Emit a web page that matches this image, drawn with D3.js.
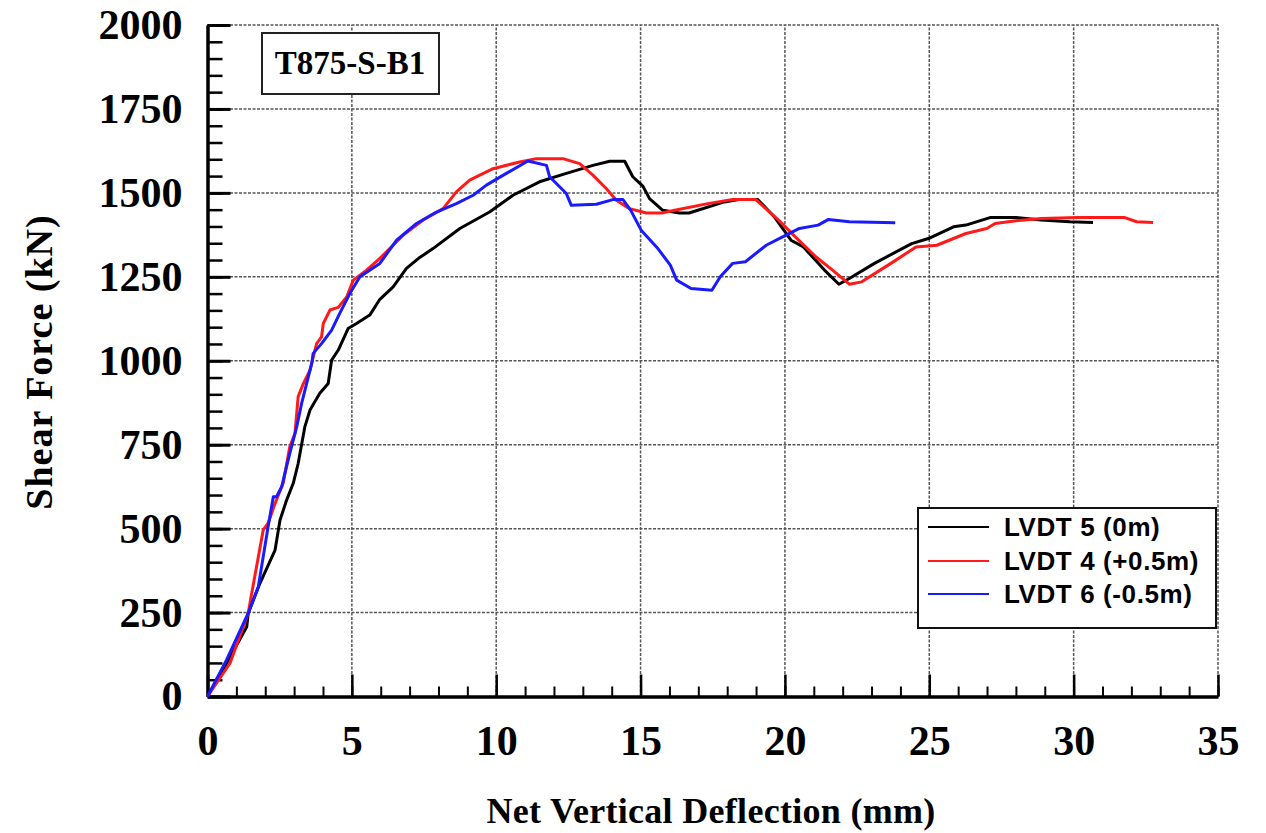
<!DOCTYPE html>
<html>
<head>
<meta charset="utf-8">
<script src="https://cdn.jsdelivr.net/npm/d3@7"></script>
<style>
  body { margin: 0; background: #fff; }
  svg { display: block; }
</style>
</head>
<body>
<div id="chart"></div>
<script>
const width = 1266, height = 833;

// data: [deflection mm, shear kN]
const lvdt5 = [[0,0],[0.7,105],[1.36,208],[1.41,248],[1.82,338],[2.34,436],[2.51,525],[2.74,585],[2.97,635],[3.14,694],[3.37,803],[3.55,853],[3.89,903],[4.18,932],[4.30,1002],[4.53,1032],[4.87,1096],[5.16,1111],[5.62,1136],[5.97,1183],[6.43,1220],[6.89,1275],[7.31,1305],[7.81,1334],[8.74,1394],[9.77,1443],[10.58,1493],[11.5,1533],[12.43,1558],[13.35,1582],[13.93,1594],[14.45,1594],[14.73,1548],[15.08,1520],[15.31,1483],[15.77,1448],[16.35,1440],[16.68,1440],[17.9,1473],[18.4,1480],[19.06,1480],[19.64,1428],[20.21,1359],[20.64,1339],[21.37,1270],[21.87,1228],[22.23,1245],[23.1,1290],[24.39,1349],[24.97,1364],[25.84,1399],[26.27,1404],[27.13,1427],[28.0,1427],[28.87,1419],[29.87,1414],[30.67,1412]];

const lvdt4 = [[0,0],[0.78,99],[1.41,248],[1.53,307],[1.93,496],[2.10,516],[2.34,575],[2.62,635],[2.85,744],[3.03,784],[3.14,893],[3.32,932],[3.55,972],[3.78,1051],[3.95,1071],[4.01,1111],[4.24,1151],[4.53,1159],[4.82,1190],[5.05,1240],[5.51,1270],[5.97,1305],[6.78,1374],[7.47,1419],[8.16,1453],[8.62,1503],[9.08,1538],[9.89,1572],[10.81,1592],[11.39,1602],[12.31,1602],[12.89,1587],[13.35,1553],[13.81,1513],[14.16,1478],[14.62,1453],[15.2,1440],[15.74,1440],[16.18,1448],[17.33,1468],[18.19,1480],[18.99,1480],[19.78,1419],[20.36,1369],[21.08,1309],[21.65,1270],[22.23,1228],[22.66,1235],[23.67,1290],[24.54,1339],[25.26,1344],[26.27,1379],[26.99,1394],[27.28,1409],[28.0,1417],[28.87,1424],[30.16,1427],[31.75,1427],[32.18,1414],[32.75,1412]];

const lvdt6 = [[0,0],[0.66,109],[1.41,248],[1.76,327],[2.10,506],[2.28,595],[2.39,595],[2.57,625],[2.85,724],[3.09,803],[3.26,873],[3.61,992],[3.66,1022],[3.95,1051],[4.30,1091],[4.58,1141],[4.93,1200],[5.28,1250],[5.97,1290],[6.55,1359],[7.24,1409],[7.93,1443],[8.62,1468],[9.2,1493],[9.66,1523],[10.35,1558],[11.1,1595],[11.74,1582],[11.85,1548],[12.43,1498],[12.6,1463],[13.47,1466],[14.04,1480],[14.39,1480],[14.66,1448],[15.02,1389],[15.6,1334],[16.03,1285],[16.25,1240],[16.75,1215],[17.47,1210],[17.76,1250],[18.19,1290],[18.63,1295],[19.35,1344],[19.92,1369],[20.5,1394],[21.15,1404],[21.51,1421],[22.23,1414],[23.82,1411]];

const seriesNames = ["LVDT 5 (0m)", "LVDT 4 (+0.5m)", "LVDT 6 (-0.5m)"];
const seriesColors = ["#000000", "#ff1a1a", "#1a1aff"];
const xTicks = [0, 5, 10, 15, 20, 25, 30, 35];
const yTicks = [0, 250, 500, 750, 1000, 1250, 1500, 1750, 2000];

const margin = {left: 207.5, right: 48, top: 25, bottom: 136.5};

const svg = d3.select("#chart")
    .append("svg")
    .attr("width", width)
    .attr("height", height);

const x = d3.scaleLinear().domain([0, 35]).range([margin.left, width - margin.right]);
const y = d3.scaleLinear().domain([0, 2000]).range([height - margin.bottom, margin.top]);

const serif = "'Liberation Serif', 'Times New Roman', serif";
const sans = "'Liberation Sans', Arial, sans-serif";

// dotted grid
svg.append("g")
    .selectAll("line.vg")
    .data(xTicks.slice(1))
    .enter()
    .append("line")
    .attr("x1", d => x(d)).attr("x2", d => x(d))
    .attr("y1", y(0)).attr("y2", y(2000))
    .attr("stroke", "#555").attr("stroke-width", 1.5)
    .attr("stroke-dasharray", "3,1.5");

svg.append("g")
    .selectAll("line.hg")
    .data(yTicks.slice(1))
    .enter()
    .append("line")
    .attr("x1", x(0)).attr("x2", x(35))
    .attr("y1", d => y(d)).attr("y2", d => y(d))
    .attr("stroke", "#555").attr("stroke-width", 1.5)
    .attr("stroke-dasharray", "3,1.5");

// minor ticks (inward)
svg.append("g")
    .attr("transform", `translate(${x(0)},0)`)
    .call(d3.axisLeft(y).tickValues(d3.range(0, 2001, 50)).tickSize(-15).tickSizeOuter(0).tickFormat(""))
    .call(g => g.selectAll("line").attr("stroke-width", 2.5));

svg.append("g")
    .attr("transform", `translate(0,${y(0)})`)
    .call(d3.axisBottom(x).tickValues(d3.range(0, 36, 1)).tickSize(-10).tickSizeOuter(0).tickFormat(""))
    .call(g => g.selectAll("line").attr("stroke-width", 2));

// major ticks with labels
const yAxis = svg.append("g")
    .attr("transform", `translate(${x(0)},0)`)
    .call(d3.axisLeft(y).tickValues(yTicks).tickFormat(d3.format("d"))
        .tickSize(-23).tickSizeOuter(0).tickPadding(25));
yAxis.select(".domain").attr("stroke-width", 3.5);
yAxis.selectAll("line").attr("stroke-width", 3);
yAxis.selectAll("text")
    .attr("font-family", serif).attr("font-weight", "bold")
    .attr("font-size", 42).attr("fill", "#000");

const xAxis = svg.append("g")
    .attr("transform", `translate(0,${y(0)})`)
    .call(d3.axisBottom(x).tickValues(xTicks).tickFormat(d3.format("d"))
        .tickSize(-22).tickSizeOuter(0).tickPadding(29));
xAxis.select(".domain").attr("stroke-width", 3.5);
xAxis.selectAll("line").attr("stroke-width", 2.5);
xAxis.selectAll("text")
    .attr("font-family", serif).attr("font-weight", "bold")
    .attr("font-size", 42).attr("fill", "#000");

// axis titles
svg.append("text")
    .attr("x", 711).attr("y", 823)
    .attr("text-anchor", "middle")
    .attr("font-family", serif).attr("font-weight", "bold").attr("font-size", 36)
    .attr("letter-spacing", 0.3)
    .text("Net Vertical Deflection (mm)");

svg.append("text")
    .attr("transform", "translate(52,362) rotate(-90)")
    .attr("text-anchor", "middle")
    .attr("font-family", serif).attr("font-weight", "bold").attr("font-size", 38)
    .attr("letter-spacing", 1)
    .text("Shear Force (kN)");

// curves
const line = d3.line().x(d => x(d[0])).y(d => y(d[1]));
[lvdt5, lvdt4, lvdt6].forEach((s, i) => {
    svg.append("path")
        .datum(s)
        .attr("d", line)
        .attr("fill", "none")
        .attr("stroke", seriesColors[i])
        .attr("stroke-width", 3)
        .attr("stroke-linejoin", "round");
});

// specimen label box
svg.append("rect")
    .attr("x", 262).attr("y", 33).attr("width", 177).attr("height", 61)
    .attr("fill", "#fff").attr("stroke", "#222").attr("stroke-width", 2);
svg.append("text")
    .attr("x", 350).attr("y", 74)
    .attr("text-anchor", "middle")
    .attr("font-family", serif).attr("font-weight", "bold").attr("font-size", 33)
    .text("T875-S-B1");

// legend
const legend = svg.append("g");
legend.append("rect")
    .attr("x", 918).attr("y", 508).attr("width", 298).attr("height", 120)
    .attr("fill", "#fff").attr("stroke", "#111").attr("stroke-width", 2);
const legendRows = [527, 561, 594];
seriesNames.forEach((name, i) => {
    legend.append("line")
        .attr("x1", 928).attr("x2", 989)
        .attr("y1", legendRows[i]).attr("y2", legendRows[i])
        .attr("stroke", seriesColors[i]).attr("stroke-width", 2);
    legend.append("text")
        .attr("x", 1004).attr("y", legendRows[i] + 9)
        .attr("font-family", sans).attr("font-weight", "bold").attr("font-size", 26)
        .attr("letter-spacing", 0.6)
        .text(name);
});
</script>
</body>
</html>
